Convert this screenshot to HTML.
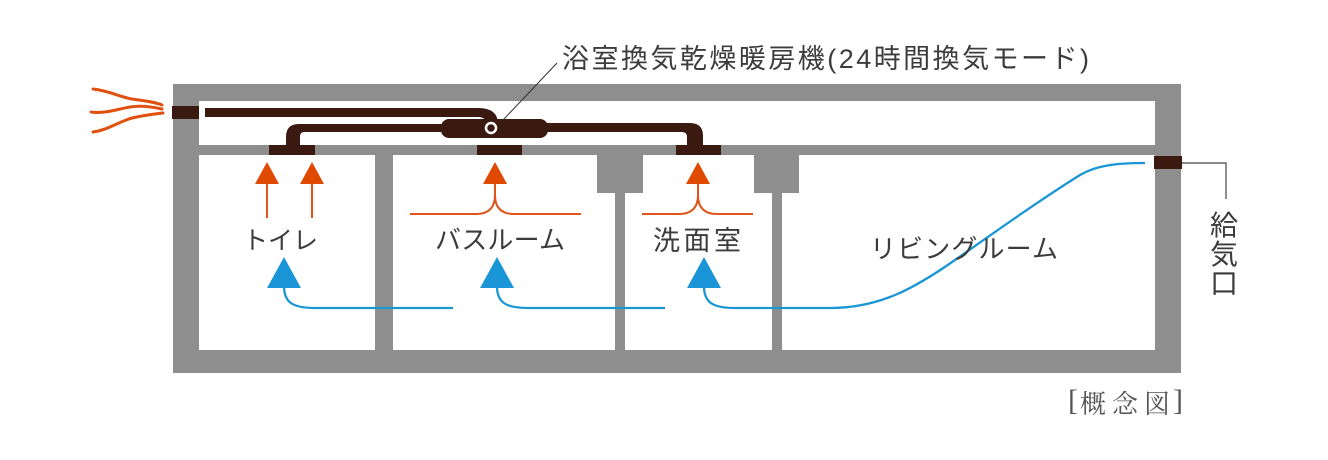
<!DOCTYPE html>
<html><head><meta charset="utf-8"><style>
html,body{margin:0;padding:0;background:#fff;}
svg{display:block;}
</style></head><body>
<svg width="1328" height="460" viewBox="0 0 1328 460" xmlns="http://www.w3.org/2000/svg">
<rect width="1328" height="460" fill="#fff"/>
<!-- building -->
<rect x="173" y="84" width="1008" height="289" fill="#8e8e8e"/>
<rect x="199" y="101" width="956" height="44" fill="#fff"/>
<rect x="199" y="155" width="176" height="195" fill="#fff"/>
<rect x="393" y="155" width="222" height="195" fill="#fff"/>
<rect x="625" y="155" width="147" height="195" fill="#fff"/>
<rect x="782" y="155" width="373" height="195" fill="#fff"/>
<rect x="597" y="154" width="46" height="39" fill="#8e8e8e"/>
<rect x="754" y="154" width="45" height="39" fill="#8e8e8e"/>

<!-- ducts -->
<g fill="#3a1a10">
<rect x="172" y="106" width="27" height="13"/>
<path d="M205 108 L478 108 Q498 108 498 124 L486 124 Q486 117 478 117 L205 117 Z"/>
<path d="M286 145 L286 137 Q286 124 299 124 L445 124 L445 132 L304 132 Q300 132 300 137 L300 145 Z"/>
<path d="M540 123 L690 123 Q703 123 703 136 L703 145 L687 145 L687 137 Q687 132 682 132 L540 132 Z"/>
<rect x="441" y="119" width="107" height="19" rx="8" ry="8"/>
<rect x="269" y="145" width="46" height="10"/>
<rect x="477" y="145" width="45" height="10"/>
<rect x="676" y="145" width="45" height="10"/>
<rect x="1154" y="156" width="28" height="13"/>
</g>
<circle cx="491" cy="128" r="5" fill="#3a1a10" stroke="#fff" stroke-width="2.5"/>

<!-- leader lines -->
<line x1="557" y1="63" x2="503" y2="120" stroke="#333" stroke-width="1"/>
<polyline points="1182,163 1226,163 1226,199" fill="none" stroke="#444" stroke-width="1.2"/>

<!-- exhaust waves -->
<g fill="none" stroke="#e0500f" stroke-width="3" stroke-linecap="round">
<path d="M93 89 C110 91 120 97 132 99 C145 101 155 102 162 105"/>
<path d="M91 112 C105 114 118 109 130 107 C142 105 153 107 162 109"/>
<path d="M93 132 C108 130 118 122 132 118 C145 115 155 114 163 113"/>
</g>

<!-- orange arrows -->
<g fill="none" stroke="#e0561a" stroke-width="2">
<path d="M267 183 V218"/>
<path d="M312 183 V218"/>
<path d="M495 182 V196 M410 214 H476 Q495 214 495 195 Q495 214 514 214 H581"/>
<path d="M698 182 V196 M642 214 H679 Q698 214 698 195 Q698 214 717 214 H753"/>
</g>
<g fill="#e04a00">
<polygon points="267,162 255,184 279,184"/>
<polygon points="312,162 300,184 324,184"/>
<polygon points="495,162 483,184 507,184"/>
<polygon points="698,162 686,184 710,184"/>
</g>

<!-- blue flows -->
<g fill="none" stroke="#1a96d4" stroke-width="2.3">
<path d="M284 286 C284 302 292 308 315 308 L453 308"/>
<path d="M497 286 C497 302 505 308 528 308 L665 308"/>
<path d="M704 286 C704 302 712 308 735 308 L830 308 C880 308 915 288 955 260 C995 232 1040 200 1080 175 C1097 165 1118 163 1145 163"/>
</g>
<g fill="#1a96d8">
<polygon points="284,257 267,288 301,288"/>
<polygon points="497,257 480,288 514,288"/>
<polygon points="704,257 687,288 721,288"/>
</g>

<!-- labels -->
<g font-family="'Liberation Sans','Noto Sans CJK JP',sans-serif" fill="#3c3c3c">
<text x="562" y="68" font-size="27" textLength="527" lengthAdjust="spacing">浴室換気乾燥暖房機(24時間換気モード)</text>
<text x="243" y="249" font-size="25" textLength="75" lengthAdjust="spacing">トイレ</text>
<text x="435" y="249" font-size="26" textLength="130" lengthAdjust="spacing">バスルーム</text>
<text x="653" y="250" font-size="27" textLength="88" lengthAdjust="spacing">洗面室</text>
<text x="870" y="258" font-size="26" textLength="188" lengthAdjust="spacing">リビングルーム</text>
<text x="1210" y="235" font-size="28">給</text>
<text x="1210" y="264" font-size="28">気</text>
<text x="1210" y="293" font-size="28">口</text>
</g>
<g font-family="'Liberation Serif','Noto Serif CJK SC',serif" fill="#555">
<text x="1068" y="410" font-size="30">[</text>
<text x="1080" y="413" font-size="26" textLength="90" lengthAdjust="spacing">概念図</text>
<text x="1173" y="410" font-size="30">]</text>
</g>
</svg>
</body></html>
